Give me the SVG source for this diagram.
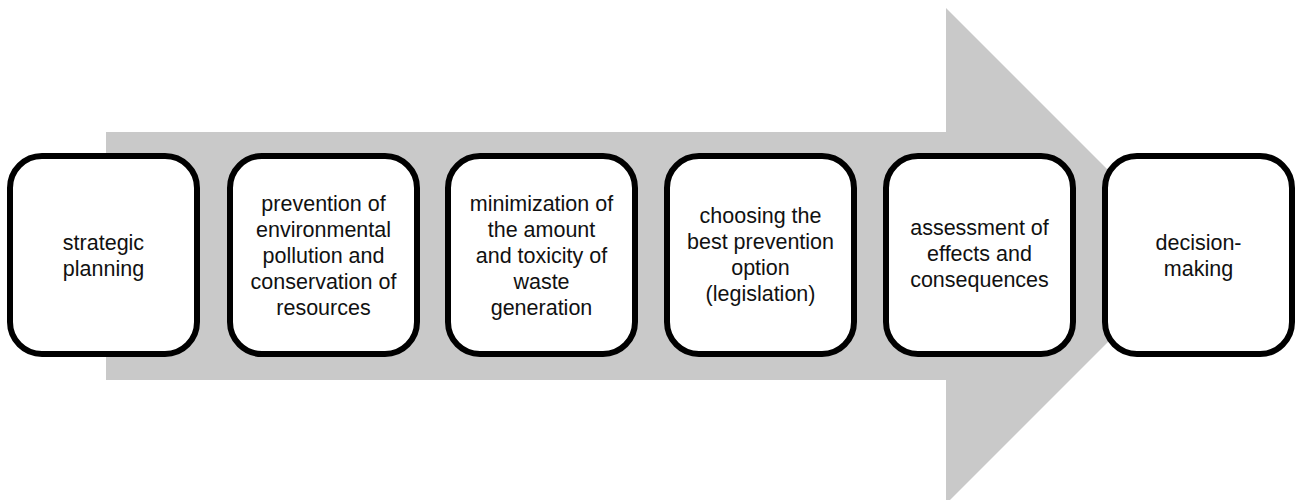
<svg xmlns="http://www.w3.org/2000/svg" width="1298" height="500" viewBox="0 0 1298 500">
<style>
.box{fill:#fff;stroke:#000;stroke-width:6}
.lbl{font-family:"Liberation Sans",Arial,sans-serif;font-size:21.5px;fill:#111;text-anchor:middle}
</style>
<rect width="1298" height="500" fill="#fff"/>
<g id="arrow">
<polygon points="106,132 946,132 946,8 1194,256 946,504 946,380 106,380" fill="#c9c9c9"/>
</g>
<g id="connectors"></g>
<g id="n1">
<rect class="box" x="10" y="156" width="187" height="198" rx="32"/>
<text class="lbl" x="103.5" y="250">strategic</text>
<text class="lbl" x="103.5" y="276">planning</text>
</g>
<g id="n2">
<rect class="box" x="230" y="156" width="187" height="198" rx="32"/>
<text class="lbl" x="323.5" y="211">prevention of</text>
<text class="lbl" x="323.5" y="237">environmental</text>
<text class="lbl" x="323.5" y="263">pollution and</text>
<text class="lbl" x="323.5" y="289">conservation of</text>
<text class="lbl" x="323.5" y="315">resources</text>
</g>
<g id="n3">
<rect class="box" x="448" y="156" width="187" height="198" rx="32"/>
<text class="lbl" x="541.5" y="211">minimization of</text>
<text class="lbl" x="541.5" y="237">the amount</text>
<text class="lbl" x="541.5" y="263">and toxicity of</text>
<text class="lbl" x="541.5" y="289">waste</text>
<text class="lbl" x="541.5" y="315">generation</text>
</g>
<g id="n4">
<rect class="box" x="667" y="156" width="187" height="198" rx="32"/>
<text class="lbl" x="760.5" y="223">choosing the</text>
<text class="lbl" x="760.5" y="249">best prevention</text>
<text class="lbl" x="760.5" y="275">option</text>
<text class="lbl" x="760.5" y="301">(legislation)</text>
</g>
<g id="n5">
<rect class="box" x="886" y="156" width="187" height="198" rx="32"/>
<text class="lbl" x="979.5" y="235">assessment of</text>
<text class="lbl" x="979.5" y="261">effects and</text>
<text class="lbl" x="979.5" y="287">consequences</text>
</g>
<g id="n6">
<rect class="box" x="1105" y="156" width="187" height="198" rx="32"/>
<text class="lbl" x="1198.5" y="250">decision-</text>
<text class="lbl" x="1198.5" y="276">making</text>
</g>
</svg>
